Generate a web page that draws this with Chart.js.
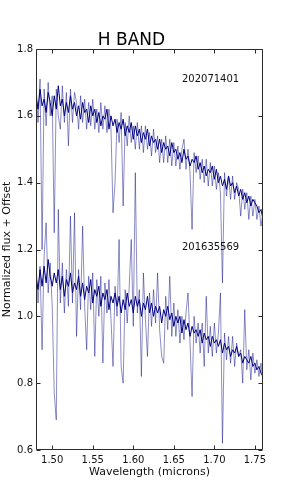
<!DOCTYPE html>
<html>
<head>
<meta charset="utf-8">
<script src="https://cdn.jsdelivr.net/npm/chart.js@4"></script>
<style>
  html, body { margin: 0; padding: 0; background: #fff; }
  canvas { display: block; }
</style>
</head>
<body>
<canvas id="myChart" width="291" height="501"></canvas>
<script>
// wavelength grid (microns)
const wavelength = [
  1.4800, 1.4825, 1.4850, 1.4875, 1.4900, 1.4925, 1.4950, 1.4975, 1.5000, 1.5025,
  1.5050, 1.5075, 1.5100, 1.5125, 1.5150, 1.5175, 1.5200, 1.5225, 1.5250, 1.5275,
  1.5300, 1.5325, 1.5350, 1.5375, 1.5400, 1.5425, 1.5450, 1.5475, 1.5500, 1.5525,
  1.5550, 1.5575, 1.5600, 1.5625, 1.5650, 1.5675, 1.5700, 1.5725, 1.5750, 1.5775,
  1.5800, 1.5825, 1.5850, 1.5875, 1.5900, 1.5925, 1.5950, 1.5975, 1.6000, 1.6025,
  1.6050, 1.6075, 1.6100, 1.6125, 1.6150, 1.6175, 1.6200, 1.6225, 1.6250, 1.6275,
  1.6300, 1.6325, 1.6350, 1.6375, 1.6400, 1.6425, 1.6450, 1.6475, 1.6500, 1.6525,
  1.6550, 1.6575, 1.6600, 1.6625, 1.6650, 1.6675, 1.6700, 1.6725, 1.6750, 1.6775,
  1.6800, 1.6825, 1.6850, 1.6875, 1.6900, 1.6925, 1.6950, 1.6975, 1.7000, 1.7025,
  1.7050, 1.7075, 1.7100, 1.7125, 1.7150, 1.7175, 1.7200, 1.7225, 1.7250, 1.7275,
  1.7300, 1.7325, 1.7350, 1.7375, 1.7400, 1.7425, 1.7450, 1.7475, 1.7500, 1.7525,
  1.7550, 1.7575, 1.7600
];

// 202071401 (offset spectrum)
const star1Flux = [
  1.66, 1.62, 1.68, 1.63, 1.65, 1.61, 1.67, 1.64, 1.60, 1.66,
  1.62, 1.69, 1.63, 1.65, 1.60, 1.64, 1.61, 1.66, 1.62, 1.64,
  1.60, 1.63, 1.59, 1.64, 1.61, 1.62, 1.58, 1.63, 1.60, 1.62,
  1.58, 1.61, 1.57, 1.60, 1.59, 1.62, 1.56, 1.60, 1.57, 1.59,
  1.55, 1.58, 1.56, 1.59, 1.54, 1.57, 1.55, 1.58, 1.53, 1.57,
  1.54, 1.56, 1.52, 1.55, 1.53, 1.56, 1.51, 1.54, 1.52, 1.53,
  1.50, 1.53, 1.49, 1.52, 1.50, 1.51, 1.48, 1.52, 1.49, 1.50,
  1.47, 1.49, 1.46, 1.50, 1.47, 1.48, 1.45, 1.47, 1.46, 1.48,
  1.44, 1.46, 1.43, 1.45, 1.42, 1.44, 1.43, 1.45, 1.41, 1.44,
  1.40, 1.42, 1.39, 1.41, 1.38, 1.42, 1.39, 1.40, 1.37, 1.39,
  1.36, 1.38, 1.35, 1.37, 1.34, 1.36, 1.33, 1.35, 1.34, 1.33,
  1.31, 1.32, 1.29
];
const star1Raw = [
  1.70, 1.58, 1.71, 1.20, 1.68, 1.57, 1.70, 1.60, 1.66, 1.25,
  1.68, 1.60, 1.56, 1.69, 1.58, 1.67, 1.51, 1.68, 1.58, 1.67,
  1.64, 1.56, 1.66, 1.58, 1.65, 1.56, 1.64, 1.57, 1.65, 1.56,
  1.62, 1.55, 1.64, 1.56, 1.63, 1.55, 1.62, 1.56, 1.31, 1.40,
  1.59, 1.52, 1.61, 1.33, 1.58, 1.51, 1.60, 1.52, 1.57, 1.50,
  1.58, 1.50, 1.57, 1.49, 1.57, 1.50, 1.55, 1.48, 1.56, 1.49,
  1.54, 1.46, 1.53, 1.46, 1.54, 1.46, 1.53, 1.45, 1.52, 1.45,
  1.51, 1.44, 1.50, 1.53, 1.44, 1.50, 1.43, 1.26, 1.49, 1.43,
  1.48, 1.41, 1.47, 1.40, 1.47, 1.39, 1.46, 1.39, 1.45, 1.38,
  1.43, 1.37, 1.10, 1.43, 1.36, 1.42, 1.35, 1.42, 1.35, 1.40,
  1.38, 1.30, 1.38, 1.32, 1.37, 1.29, 1.36, 1.30, 1.35, 1.29,
  1.33, 1.27, 1.31
];

// 201635569
const star2Flux = [
  1.12, 1.08, 1.14, 1.09, 1.15, 1.10, 1.17, 1.12, 1.09, 1.13,
  1.10, 1.14, 1.08, 1.12, 1.06, 1.11, 1.09, 1.13, 1.07, 1.10,
  1.08, 1.12, 1.06, 1.10, 1.05, 1.09, 1.07, 1.11, 1.04, 1.08,
  1.06, 1.09, 1.03, 1.07, 1.05, 1.08, 1.02, 1.06, 1.04, 1.07,
  1.03, 1.06, 1.01, 1.05, 1.02, 1.07, 1.03, 1.05, 1.01, 1.06,
  1.03, 1.05, 1.00, 1.04, 1.02, 1.06, 1.01, 1.04, 1.00, 1.03,
  1.01, 1.03, 0.98, 1.02, 1.00, 1.03, 0.99, 1.01, 0.97, 1.00,
  0.98, 1.00, 0.95, 0.99, 0.96, 0.98, 0.94, 0.97, 0.95, 0.96,
  0.94, 0.96, 0.92, 0.95, 0.93, 0.94, 0.91, 0.94, 0.92, 0.93,
  0.91, 0.93, 0.89, 0.92, 0.90, 0.91, 0.88, 0.90, 0.89, 0.91,
  0.88, 0.89, 0.86, 0.88, 0.87, 0.86, 0.88, 0.85, 0.86, 0.84,
  0.85, 0.83, 0.82
];
const star2Raw = [
  1.16, 1.04, 1.15, 0.90, 1.18, 1.28, 1.07, 1.16, 1.03, 0.77,
  0.69, 1.32, 1.04, 1.16, 1.01, 1.14, 1.03, 1.30, 1.04, 1.31,
  0.94, 1.14, 1.02, 1.27, 1.03, 0.90, 1.12, 1.02, 1.13, 0.88,
  1.11, 1.00, 1.12, 0.86, 1.10, 1.01, 1.11, 0.99, 0.85, 1.09,
  1.00, 1.23, 0.85, 0.80, 1.08, 0.98, 1.09, 1.23, 0.97, 1.43,
  1.01, 1.08, 0.82, 1.13, 0.99, 0.88, 1.07, 0.97, 1.08, 0.98,
  1.13, 0.96, 0.88, 0.86, 1.06, 0.96, 1.12, 0.94, 1.04, 0.94,
  1.02, 0.92, 1.00, 0.93, 1.01, 1.07, 0.92, 0.76, 1.00, 0.92,
  0.98, 0.89, 0.98, 0.85, 1.06, 0.89, 0.97, 0.88, 0.98, 0.89,
  0.95, 1.07, 0.62, 0.95, 0.87, 0.94, 0.86, 0.94, 0.85, 0.92,
  0.88, 0.90, 0.80, 1.02, 0.84, 0.90, 0.81, 0.89, 0.83, 0.87,
  0.82, 0.86, 0.80
];

const xTicks = [1.50, 1.55, 1.60, 1.65, 1.70, 1.75];
const yTicks = [0.6, 0.8, 1.0, 1.2, 1.4, 1.6, 1.8];
const starLabels = [
  { text: '202071401', x: 1.66, y: 1.70 },
  { text: '201635569', x: 1.66, y: 1.20 }
];

const FONT = 'DejaVu Sans';
const pts = (ys) => ys.map((y, i) => ({ x: wavelength[i], y: y }));

// frame, inward ticks on all four sides and star ids
const framePlugin = {
  id: 'frame',
  afterDraw(chart) {
    const ctx = chart.ctx;
    const a = chart.chartArea;
    const x = chart.scales.x, y = chart.scales.y;
    const L = Math.round(a.left) + 0.5, R = Math.round(a.right) - 0.5;
    const T = Math.round(a.top) + 0.5, B = Math.round(a.bottom) - 0.5;
    ctx.save();
    ctx.strokeStyle = '#2b2b2b';
    ctx.lineWidth = 1;
    ctx.beginPath();
    ctx.moveTo(L, T); ctx.lineTo(R, T); ctx.lineTo(R, B); ctx.lineTo(L, B); ctx.closePath();
    xTicks.forEach(v => {
      const px = Math.round(x.getPixelForValue(v)) + 0.5;
      ctx.moveTo(px, B); ctx.lineTo(px, B - 4);
      ctx.moveTo(px, T); ctx.lineTo(px, T + 4);
    });
    yTicks.forEach(v => {
      const py = Math.round(y.getPixelForValue(v)) + 0.5;
      ctx.moveTo(L, py); ctx.lineTo(L + 4, py);
      ctx.moveTo(R, py); ctx.lineTo(R - 4, py);
    });
    ctx.stroke();

    ctx.fillStyle = '#111';
    ctx.font = '10px "' + FONT + '"';
    ctx.textAlign = 'left';
    ctx.textBaseline = 'alphabetic';
    starLabels.forEach(l => {
      ctx.fillText(l.text, x.getPixelForValue(l.x), y.getPixelForValue(l.y));
    });
    ctx.restore();
  }
};

const lightBlue = 'rgba(0, 0, 128, 0.45)';
const navy = '#000080';

new Chart(document.getElementById('myChart'), {
  type: 'line',
  data: {
    datasets: [
      { data: pts(star1Flux), borderColor: navy, borderWidth: 1, order: 1 },
      { data: pts(star2Flux), borderColor: navy, borderWidth: 1, order: 1 },
      { data: pts(star1Raw), borderColor: lightBlue, borderWidth: 1, order: 2 },
      { data: pts(star2Raw), borderColor: lightBlue, borderWidth: 1, order: 2 }
    ]
  },
  options: {
    responsive: false,
    animation: false,
    events: [],
    elements: { point: { radius: 0 }, line: { tension: 0 } },
    layout: { padding: { top: 30, right: 28, left: 0, bottom: 0 } },
    plugins: {
      legend: { display: false },
      tooltip: { enabled: false },
      title: {
        display: true,
        text: 'H BAND',
        color: '#000',
        font: { family: FONT, size: 17, weight: 'normal', lineHeight: 1 },
        padding: { top: 2, bottom: 0 }
      }
    },
    scales: {
      x: {
        type: 'linear',
        min: 1.48,
        max: 1.76,
        afterBuildTicks: s => { s.ticks = xTicks.map(v => ({ value: v })); },
        afterFit: s => { s.height = 51; },
        grid: { display: false, drawTicks: false },
        border: { display: false },
        ticks: {
          color: '#111',
          font: { family: FONT, size: 10 },
          padding: 4,
          maxRotation: 0,
          callback: v => v.toFixed(2)
        },
        title: {
          display: true,
          text: 'Wavelength (microns)',
          color: '#111',
          font: { family: FONT, size: 11 },
          padding: { top: 0, bottom: 22 }
        }
      },
      y: {
        min: 0.6,
        max: 1.8,
        afterBuildTicks: s => { s.ticks = yTicks.map(v => ({ value: v })); },
        afterFit: s => { s.width = 36; },
        grid: { display: false, drawTicks: false },
        border: { display: false },
        ticks: {
          color: '#111',
          font: { family: FONT, size: 10 },
          padding: 3,
          callback: v => v.toFixed(1)
        },
        title: {
          display: true,
          text: 'Normalized flux + Offset',
          color: '#111',
          font: { family: FONT, size: 11 },
          padding: { top: 1, bottom: 0 }
        }
      }
    }
  },
  plugins: [framePlugin]
});
</script>
</body>
</html>
